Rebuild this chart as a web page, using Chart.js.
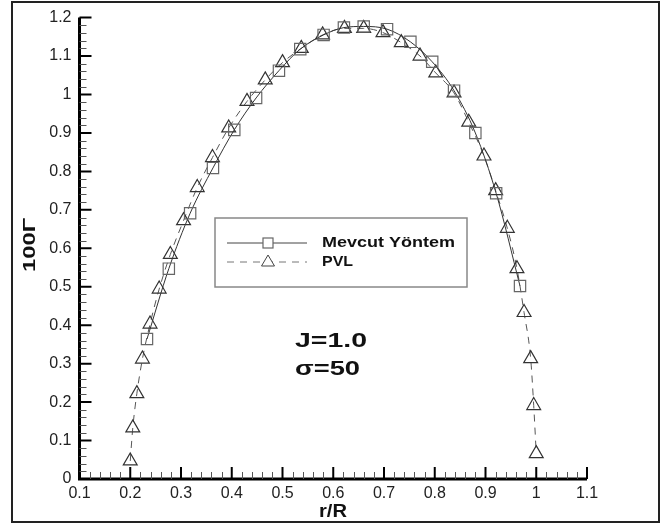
<!DOCTYPE html>
<html>
<head>
<meta charset="utf-8">
<script src="https://cdn.jsdelivr.net/npm/chart.js@4/dist/chart.umd.min.js"></script>
<style>
  html, body { margin: 0; padding: 0; background: #fff; }
  canvas { display: block; }
</style>
</head>
<body>
<canvas id="chart" width="665" height="527"></canvas>
<script>
/* ─── DATA ─── */
const xTickLabels = ['0.1', '0.2', '0.3', '0.4', '0.5', '0.6', '0.7', '0.8', '0.9', '1', '1.1'];
const yTickLabels = ['0', '0.1', '0.2', '0.3', '0.4', '0.5', '0.6', '0.7', '0.8', '0.9', '1', '1.1', '1.2'];

// Mevcut Yöntem (squares, solid)
const mevcutR = [0.233, 0.276, 0.318, 0.363, 0.405, 0.448, 0.493, 0.535, 0.581, 0.621, 0.660, 0.706, 0.752, 0.795, 0.838, 0.880, 0.921, 0.968];
const mevcutG = [0.364, 0.547, 0.691, 0.809, 0.908, 0.991, 1.062, 1.118, 1.155, 1.174, 1.177, 1.170, 1.137, 1.085, 1.010, 0.900, 0.743, 0.502];

// PVL (triangles, dashed)
const pvlR = [0.200, 0.205, 0.213, 0.224, 0.239, 0.257, 0.279, 0.305, 0.332, 0.362, 0.394, 0.430, 0.466, 0.500, 0.537, 0.579, 0.622, 0.660,
              0.698, 0.734, 0.771, 0.802, 0.838, 0.867, 0.897, 0.920, 0.943, 0.962, 0.976, 0.989, 0.995, 1.000];
const pvlG = [0.047, 0.133, 0.222, 0.312, 0.403, 0.494, 0.584, 0.672, 0.758, 0.836, 0.913, 0.982, 1.038, 1.083, 1.120, 1.155, 1.172, 1.172,
              1.161, 1.135, 1.100, 1.056, 1.004, 0.928, 0.840, 0.750, 0.652, 0.547, 0.433, 0.313, 0.191, 0.066];

const seriesNames = ['Mevcut Yöntem', 'PVL'];
const annotLines = ['J=1.0', 'σ=50'];

const toPts = (xs, ys) => xs.map((x, i) => ({ x: x, y: ys[i] }));

/* ─── TEXT HELPER: draw text stretched to a given width ─── */
function fitText(ctx, txt, x, y, font, w, align) {
  ctx.font = font;
  const m = ctx.measureText(txt).width;
  ctx.save();
  ctx.translate(x, y);
  ctx.scale(w / m, 1);
  ctx.textAlign = 'left';
  ctx.fillText(txt, align === 'center' ? -m / 2 : 0, 0);
  ctx.restore();
}

/* ─── FRAME, AXES, INWARD TICKS, LEGEND, LABELS ─── */
const decoPlugin = {
  id: 'deco',
  afterDraw(chart) {
    const ctx = chart.ctx;
    const xs = chart.scales.x, ys = chart.scales.y;
    const L = chart.chartArea.left, B = chart.chartArea.bottom;
    const R = chart.chartArea.right, T = chart.chartArea.top;
    ctx.save();

    // outer frame
    ctx.strokeStyle = '#222';
    ctx.lineWidth = 2;
    ctx.strokeRect(12, 2, 647, 520);

    // axis lines
    ctx.strokeStyle = '#000';
    ctx.lineWidth = 3;
    ctx.beginPath();
    ctx.moveTo(L, T); ctx.lineTo(L, B + 1.5);
    ctx.moveTo(L - 1.5, B); ctx.lineTo(R, B);
    ctx.stroke();

    // ticks (major + 4 minor, pointing inward)
    const xt = xs.ticks.map(t => xs.getPixelForValue(t.value));
    const yt = ys.ticks.map(t => ys.getPixelForValue(t.value));
    ctx.lineWidth = 2;
    ctx.beginPath();
    xt.forEach(p => { ctx.moveTo(p, B); ctx.lineTo(p, B - 12); });
    yt.forEach(p => { ctx.moveTo(L, p); ctx.lineTo(L + 12, p); });
    ctx.stroke();
    ctx.lineWidth = 1;
    ctx.strokeStyle = '#555';
    ctx.beginPath();
    for (let i = 0; i < xt.length - 1; i++) {
      for (let k = 1; k < 5; k++) {
        const p = Math.round(xt[i] + (xt[i + 1] - xt[i]) * k / 5) + 0.5;
        ctx.moveTo(p, B); ctx.lineTo(p, B - 7);
      }
    }
    for (let i = 0; i < yt.length - 1; i++) {
      for (let k = 1; k < 5; k++) {
        const p = Math.round(yt[i] + (yt[i + 1] - yt[i]) * k / 5) + 0.5;
        ctx.moveTo(L, p); ctx.lineTo(L + 7, p);
      }
    }
    ctx.stroke();

    // axis titles
    ctx.fillStyle = '#111';
    ctx.textBaseline = 'middle';
    fitText(ctx, 'r/R', 333, 512, 'bold 19px "Liberation Sans", Arial, sans-serif', 28, 'center');
    ctx.save();
    ctx.translate(31, 245);
    ctx.rotate(-Math.PI / 2);
    fitText(ctx, '100Γ', 0, 0, 'bold 16px "Liberation Sans", Arial, sans-serif', 54, 'center');
    ctx.restore();

    // annotation
    fitText(ctx, annotLines[0], 295, 341, 'bold 21px "Liberation Sans", Arial, sans-serif', 72, 'left');
    fitText(ctx, annotLines[1], 295, 369, 'bold 21px "Liberation Sans", Arial, sans-serif', 65, 'left');

    // legend box
    ctx.strokeStyle = '#888';
    ctx.lineWidth = 1.5;
    ctx.strokeRect(215, 218, 252, 69);
    const rows = [243, 262];
    // row 1: solid + square
    ctx.strokeStyle = '#444';
    ctx.lineWidth = 1;
    ctx.beginPath(); ctx.moveTo(227, rows[0]); ctx.lineTo(307, rows[0]); ctx.stroke();
    ctx.fillStyle = '#fff';
    ctx.strokeStyle = '#666';
    ctx.lineWidth = 1.2;
    ctx.fillRect(263, rows[0] - 5, 10, 10);
    ctx.strokeRect(263, rows[0] - 5, 10, 10);
    // row 2: dashed + triangle
    ctx.strokeStyle = '#777';
    ctx.lineWidth = 1;
    ctx.setLineDash([7, 6]);
    ctx.beginPath(); ctx.moveTo(227, rows[1]); ctx.lineTo(307, rows[1]); ctx.stroke();
    ctx.setLineDash([]);
    ctx.strokeStyle = '#444';
    ctx.beginPath();
    ctx.moveTo(268, rows[1] - 7); ctx.lineTo(274.5, rows[1] + 4); ctx.lineTo(261.5, rows[1] + 4); ctx.closePath();
    ctx.fill(); ctx.stroke();
    ctx.fillStyle = '#111';
    fitText(ctx, seriesNames[0], 322, rows[0], 'bold 15px "Liberation Sans", Arial, sans-serif', 133, 'left');
    fitText(ctx, seriesNames[1], 322, rows[1], 'bold 15px "Liberation Sans", Arial, sans-serif', 31, 'left');

    ctx.restore();
  }
};

/* ─── CHART ─── */
const tickFont = { family: '"Liberation Sans", Arial, sans-serif', size: 16 };

new Chart(document.getElementById('chart').getContext('2d'), {
  type: 'scatter',
  data: {
    datasets: [
      {
        label: seriesNames[0],
        data: toPts(mevcutR, mevcutG),
        showLine: true,
        borderColor: '#333',
        borderWidth: 1,
        cubicInterpolationMode: 'monotone',
        pointStyle: 'rect',
        pointRadius: 8,
        pointBorderColor: '#666',
        pointBorderWidth: 1.2,
        pointBackgroundColor: 'rgba(0,0,0,0)'
      },
      {
        label: seriesNames[1],
        data: toPts(pvlR, pvlG),
        showLine: true,
        borderColor: '#555',
        borderWidth: 1,
        borderDash: [7, 6],
        cubicInterpolationMode: 'monotone',
        pointStyle: 'triangle',
        pointRadius: 8,
        pointBorderColor: '#333',
        pointBorderWidth: 1.2,
        pointBackgroundColor: 'rgba(0,0,0,0)'
      }
    ]
  },
  options: {
    responsive: false,
    animation: false,
    layout: { padding: { left: 0, top: 15, right: 78, bottom: 0 } },
    plugins: { legend: { display: false }, tooltip: { enabled: false } },
    scales: {
      x: {
        type: 'linear', min: 0.1, max: 1.1,
        grid: { display: false, drawTicks: false },
        border: { display: false },
        afterFit: s => { s.height = 48; },
        ticks: {
          stepSize: 0.1, autoSkip: false, maxRotation: 0, padding: 5,
          color: '#222', font: tickFont,
          callback: (v, i) => xTickLabels[i]
        }
      },
      y: {
        type: 'linear', min: 0, max: 1.2,
        grid: { display: false, drawTicks: false },
        border: { display: false },
        afterFit: s => { s.width = 79.5; },
        ticks: {
          stepSize: 0.1, autoSkip: false, padding: 8,
          color: '#222', font: tickFont,
          callback: (v, i) => yTickLabels[i]
        }
      }
    }
  },
  plugins: [decoPlugin]
});
</script>
</body>
</html>
